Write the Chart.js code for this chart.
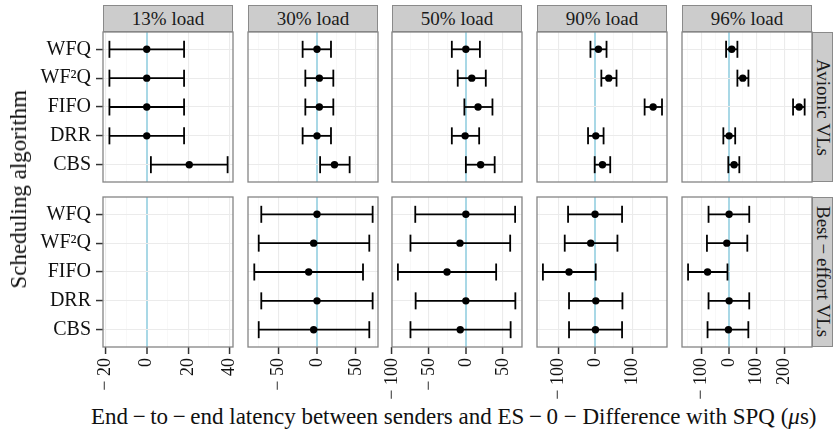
<!DOCTYPE html>
<html>
<head>
<meta charset="utf-8">
<script src="https://cdn.jsdelivr.net/npm/chart.js@4"></script>
<style>
  body { margin: 0; background: #fff; }
  #wrap { position: relative; width: 835px; height: 439px; overflow: hidden;
          font-family: "Liberation Serif", "DejaVu Serif", serif; color: #111; }
  .box { position: absolute; }
  .strip { position: absolute; box-sizing: border-box; background: #cccccc; border: 1px solid #8a8a8a;
           display: flex; align-items: center; justify-content: center; font-size: 19px; color: #1a1a1a;
           white-space: nowrap; }
  .vert { writing-mode: vertical-rl; }
  .title { position: absolute; white-space: nowrap; font-size: 23px; color: #111; }
</style>
</head>
<body>
<div id="wrap"></div>
<script>
const categories = ['WFQ', 'WF²Q', 'FIFO', 'DRR', 'CBS'];
const loads = ['13% load', '30% load', '50% load', '90% load', '96% load'];
const trafficClasses = ['Avionic VLs', 'Best\u2009\u2212\u2009effort VLs'];

// one inner array per load, values in the order of categories (µs)
const avionicMean = [
  [0, 0, 0, 0, 20.5],
  [0, 3, 3, 0, 22.5],
  [0, 8, 16.5, -1, 20],
  [8, 36, 156, 1, 19],
  [9.5, 49.5, 254, 0, 18]
];
const avionicLow = [
  [-18, -18, -18, -18, 2],
  [-18.5, -15, -15, -18.5, 4],
  [-19, -11, -2, -19, 0],
  [-13.5, 16, 133, -20, -2],
  [-11, 30, 232, -21, -3]
];
const avionicHigh = [
  [18, 18, 18, 18, 39],
  [18, 21, 21, 18, 42],
  [19, 27, 36, 18, 39],
  [30, 57, 180, 22, 40],
  [30, 70, 274, 22, 37]
];
// no best-effort traffic at 13% load
const bestEffortMean = [
  null,
  [0, -4.3, -10.7, 0, -4.3],
  [0, -8, -25.5, 0, -7.6],
  [-1, -12.7, -71.4, 1, 0],
  [0, -8.4, -78.3, 0, -2.5]
];
const bestEffortLow = [
  null,
  [-71.7, -75, -80.7, -71.7, -75],
  [-68.5, -75, -92, -68, -75],
  [-74, -83, -142, -71.4, -71.4],
  [-74.7, -80.5, -149, -74.7, -78.3]
];
const bestEffortHigh = [
  null,
  [71.6, 67.3, 59.2, 71.6, 67.3],
  [66.7, 60, 41, 67, 60.6],
  [72, 59.5, 0.8, 73, 72],
  [73, 66, -6, 73, 69.7]
];

const xMin = [-21.1, -88.8, -100, -158, -171];
const xMax = [41.6, 78.5, 76, 193.5, 300.7];
const xTicks = [
  [-20, 0, 20, 40],
  [-50, 0, 50],
  [-100, -50, 0, 50],
  [-100, 0, 100],
  [-100, 0, 100, 200]
];

// layout of the facet grid (px)
const COL_LEFT = [103, 248, 392, 537, 682];
const ROW_TOP = [32, 197];
const PW = 130, PH = 150;
const AX = 52;

const wrap = document.getElementById('wrap');

const panelBorder = {
  id: 'panelBorder',
  afterDraw(chart) {
    const a = chart.chartArea, ctx = chart.ctx;
    ctx.save();
    ctx.strokeStyle = '#858585';
    ctx.lineWidth = 1.3;
    ctx.strokeRect(a.left, a.top, a.right - a.left, a.bottom - a.top);
    ctx.restore();
  }
};

function fmtTick(v) {
  return v < 0 ? '\u2212 ' + (-v) : String(v);
}

function gridValues(col) {
  const major = xTicks[col];
  const step = major[1] - major[0];
  const vals = [];
  for (let v = major[0] - step / 2; v <= xMax[col]; v += step / 2) {
    if (v >= xMin[col]) vals.push(v);
  }
  return vals;
}

function makePanel(row, col) {
  const means = row === 0 ? avionicMean[col] : bestEffortMean[col];
  const lows = row === 0 ? avionicLow[col] : bestEffortLow[col];
  const highs = row === 0 ? avionicHigh[col] : bestEffortHigh[col];

  const padL = col === 0 ? 0 : 14;
  const left = col === 0 ? 0 : COL_LEFT[col] - padL;
  const top = ROW_TOP[row] - 2;
  const width = COL_LEFT[col] + PW + 2 - left;
  const height = PH + 4 + (row === 1 ? AX : 0);

  const box = document.createElement('div');
  box.className = 'box';
  box.style.left = left + 'px';
  box.style.top = top + 'px';
  box.style.width = width + 'px';
  box.style.height = height + 'px';
  const canvas = document.createElement('canvas');
  box.appendChild(canvas);
  wrap.appendChild(box);

  const datasets = [];
  if (means) {
    categories.forEach((c, i) => {
      datasets.push({
        data: [{ x: lows[i], y: i }, { x: highs[i], y: i }],
        showLine: true,
        borderColor: '#000',
        borderWidth: 1.8,
        pointStyle: 'line',
        pointRotation: 90,
        pointRadius: 8.5,
        pointBorderColor: '#000',
        pointBorderWidth: 1.8
      });
    });
    datasets.push({
      data: categories.map((c, i) => ({ x: means[i], y: i })),
      showLine: false,
      pointStyle: 'circle',
      pointRadius: 3.7,
      pointBackgroundColor: '#000',
      pointBorderWidth: 0
    });
  }

  const majors = xTicks[col];
  const isMajor = v => majors.some(m => Math.abs(m - v) < 1e-9);

  new Chart(canvas, {
    type: 'scatter',
    data: { datasets },
    plugins: [panelBorder],
    options: {
      responsive: true,
      maintainAspectRatio: false,
      animation: false,
      events: [],
      layout: { autoPadding: false, padding: { left: padL, right: 2, top: 2, bottom: 2 } },
      plugins: { legend: { display: false }, tooltip: { enabled: false } },
      scales: {
        x: {
          type: 'linear',
          min: xMin[col],
          max: xMax[col],
          afterBuildTicks: s => { s.ticks = gridValues(col).map(v => ({ value: v })); },
          afterFit: s => { s.height = row === 1 ? AX : 0; s.paddingLeft = 0; s.paddingRight = 0; },
          border: { display: false },
          grid: {
            color: ctx => ctx.tick.value === 0 ? '#a9d8e6' : (isMajor(ctx.tick.value) ? '#ebebeb' : '#f4f4f4'),
            lineWidth: ctx => ctx.tick.value === 0 ? 2 : (isMajor(ctx.tick.value) ? 1.1 : 0.6),
            drawTicks: row === 1,
            tickLength: 7,
            tickWidth: 1.5,
            tickColor: ctx => isMajor(ctx.tick.value) ? '#333' : 'rgba(0,0,0,0)'
          },
          ticks: {
            display: row === 1,
            autoSkip: false,
            maxRotation: 90,
            minRotation: 90,
            padding: 4,
            color: '#111',
            font: { family: 'Liberation Serif', size: 18 },
            callback: v => isMajor(v) ? fmtTick(v) : ''
          }
        },
        y: {
          type: 'linear',
          reverse: true,
          min: -0.6,
          max: categories.length - 0.4,
          afterBuildTicks: s => { s.ticks = categories.map((c, i) => ({ value: i })); },
          afterFit: s => { s.width = col === 0 ? COL_LEFT[0] : 0; s.paddingTop = 0; s.paddingBottom = 0; },
          border: { display: false },
          grid: {
            color: '#ebebeb',
            lineWidth: 1.1,
            drawTicks: col === 0,
            tickLength: 7,
            tickWidth: 1.5,
            tickColor: '#333'
          },
          ticks: {
            display: col === 0,
            autoSkip: false,
            padding: 5,
            color: '#111',
            font: { family: 'Liberation Serif', size: 20 },
            callback: v => categories[v]
          }
        }
      }
    }
  });
}

// strips on top (loads) and on the right (traffic classes)
loads.forEach((name, c) => {
  const s = document.createElement('div');
  s.className = 'strip';
  s.style.left = COL_LEFT[c] + 'px';
  s.style.top = '5px';
  s.style.width = PW + 'px';
  s.style.height = (ROW_TOP[0] - 5) + 'px';
  s.textContent = name;
  wrap.appendChild(s);
});
trafficClasses.forEach((name, r) => {
  const s = document.createElement('div');
  s.className = 'strip';
  s.style.left = (COL_LEFT[4] + PW) + 'px';
  s.style.top = ROW_TOP[r] + 'px';
  s.style.width = '21px';
  s.style.height = PH + 'px';
  const t = document.createElement('span');
  t.className = 'vert';
  t.textContent = name;
  s.appendChild(t);
  wrap.appendChild(s);
});

for (let r = 0; r < 2; r++) {
  for (let c = 0; c < loads.length; c++) makePanel(r, c);
}

// axis titles
const xt = document.createElement('div');
xt.className = 'title';
xt.innerHTML = 'End\u2009\u2212\u2009to\u2009\u2212\u2009end latency between senders and ES\u2009\u2212\u20090 \u2212 Difference with SPQ (<i>\u03bc</i>s)';
wrap.appendChild(xt);
xt.style.left = (454 - xt.offsetWidth / 2) + 'px';
xt.style.top = '404px';

const yt = document.createElement('div');
yt.className = 'title vert';
yt.style.transform = 'rotate(180deg)';
yt.textContent = 'Scheduling algorithm';
wrap.appendChild(yt);
yt.style.left = '6px';
yt.style.top = (189 - yt.offsetHeight / 2) + 'px';
</script>
</body>
</html>
